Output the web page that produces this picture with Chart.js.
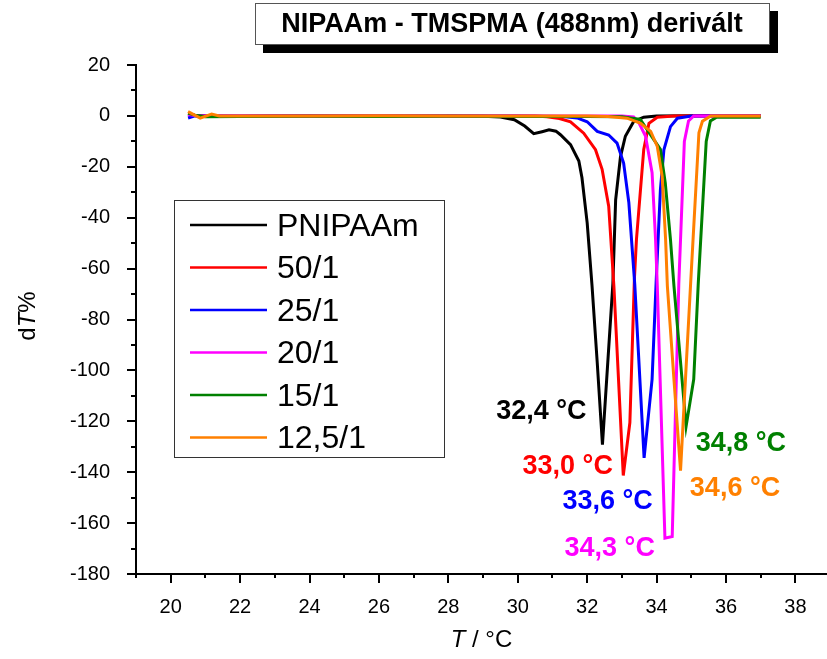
<!DOCTYPE html>
<html>
<head>
<meta charset="utf-8">
<script src="https://cdn.jsdelivr.net/npm/chart.js@4/dist/chart.umd.min.js"></script>
<style>
    body { margin: 0; background: #fff; overflow: hidden; }
    #wrap { width: 827px; height: 659px; }
</style>
</head>
<body>
<div id="wrap"><canvas id="chart" width="827" height="659"></canvas></div>
<script>
    // series: [T (°C), dT%]
    const pnipaam = [
        [20.5, 0.8], [20.7, 0.2], [21, 0], [22, -0.2], [23, 0], [24, 0], [25, 0], [26, 0], [27, 0], [28, 0],
        [29, -0.1], [29.5, -0.4], [29.9, -1.5], [30.2, -4], [30.46, -7], [30.7, -6.2], [30.9, -5.5],
        [31.1, -6], [31.23, -7.4], [31.52, -11.3], [31.76, -17.7], [31.85, -24.3], [32.0, -42],
        [32.14, -66.8], [32.29, -97], [32.44, -129.2], [32.74, -66], [32.82, -33], [32.96, -16],
        [33.1, -8], [33.34, -2.2], [33.63, -0.5], [34, 0], [35, 0.1], [36, 0.1], [37, 0.1]
    ];
    const r50 = [
        [20.5, 0.5], [20.8, 0], [22, 0], [24, 0.1], [26, 0], [28, 0], [30, 0], [30.5, 0], [30.84, -0.3],
        [31.2, -1], [31.52, -2.3], [31.9, -6.8], [32.24, -13.3], [32.43, -21], [32.62, -35.5],
        [32.77, -67], [33.04, -141.3], [33.23, -120.5], [33.36, -64.3], [33.42, -48.5], [33.63, -13.2],
        [33.78, -2.9], [34.02, -0.5], [34.5, 0], [36, 0.1], [37, 0.1]
    ];
    const r25 = [
        [20.5, -0.8], [20.7, 0], [22, 0], [24, 0], [26, 0], [28, 0], [30, 0], [31.3, -0.2], [31.71, -0.8],
        [32.0, -2.3], [32.29, -6.1], [32.62, -7.5], [32.86, -10.7], [33.05, -18.5], [33.2, -34],
        [33.37, -66], [33.64, -134.4], [33.87, -103.5], [33.99, -64.3], [34.11, -29], [34.21, -13.3],
        [34.4, -4.2], [34.6, -0.9], [35, 0], [37, 0]
    ];
    const r20 = [
        [20.5, 0.5], [20.8, 0], [22, 0], [24, 0], [26, 0], [28, 0], [30, 0], [32, 0], [33, 0],
        [33.34, -0.4], [33.49, -2.7], [33.68, -7.9], [33.87, -22.3], [33.97, -48.5], [34.02, -66.8],
        [34.24, -165.9], [34.45, -165.3], [34.64, -66], [34.8, -10], [34.92, -2], [35.07, 0],
        [36, 0], [37, 0]
    ];
    const r15 = [
        [20.5, 1], [20.7, 0.3], [21, -0.3], [22, -0.2], [24, -0.1], [26, -0.2], [28, -0.1], [30, -0.2],
        [32, -0.2], [33, -0.3], [33.53, -1.4], [33.92, -9.3], [34.11, -13.1], [34.25, -26.3],
        [34.4, -48.6], [34.5, -66.8], [34.85, -122], [35.07, -103.5], [35.2, -66], [35.43, -10],
        [35.55, -2], [35.74, -0.4], [36.5, -0.5], [37, -0.5]
    ];
    const r125 = [
        [20.5, 1.7], [20.85, -0.9], [21.18, 0.7], [21.4, 0], [22, 0], [24, 0], [26, 0.1], [28, 0],
        [30, 0], [32, 0], [32.6, -0.2], [33.15, -0.9], [33.54, -2.9], [33.83, -6.1], [34.02, -12],
        [34.16, -23.7], [34.26, -48.6], [34.31, -66.8], [34.5, -103.5], [34.69, -139.4], [34.98, -66],
        [35.22, -6.6], [35.32, -2.1], [35.56, 0], [37, 0]
    ];

    const seriesLabels = ['PNIPAAm', '50/1', '25/1', '20/1', '15/1', '12,5/1'];
    const seriesData = [pnipaam, r50, r25, r20, r15, r125];
    const peakTexts = ['32,4 °C', '33,0 °C', '33,6 °C', '34,3 °C', '34,8 °C', '34,6 °C'];

    const xTicks = [20, 22, 24, 26, 28, 30, 32, 34, 36, 38];
    const yTicks = [-180, -160, -140, -120, -100, -80, -60, -40, -20, 0, 20];

    const COLORS = ['#000000', '#ff0000', '#0000ff', '#ff00ff', '#008000', '#ff8000'];
    const FONT = "'Liberation Sans', Arial, sans-serif";

    // where each peak caption sits, in axis units
    const PEAK_LABEL_AT = [
        [30.68, -116.1], [31.44, -137.8], [32.59, -151.5],
        [32.65, -169.9], [36.43, -128.6], [36.26, -146.3]
    ];

    const decor = {
        id: 'decor',
        afterDraw(chart) {
            const {ctx, chartArea: area, scales: {x, y}} = chart;
            ctx.save();

            // tick marks, major + minor
            ctx.strokeStyle = '#000';
            ctx.lineWidth = 2;
            ctx.beginPath();
            for (let v = 19; v <= 38; v++) {
                const px = Math.round(x.getPixelForValue(v));
                ctx.moveTo(px, area.bottom);
                ctx.lineTo(px, area.bottom + (v % 2 === 0 ? 9 : 4));
            }
            for (let v = -180; v <= 20; v += 10) {
                const py = Math.round(y.getPixelForValue(v));
                ctx.moveTo(area.left, py);
                ctx.lineTo(area.left - (v % 20 === 0 ? 9 : 5), py);
            }
            ctx.stroke();

            // title box with drop shadow
            ctx.fillStyle = '#000';
            ctx.fillRect(263, 11, 515, 42);
            ctx.fillStyle = '#fff';
            ctx.fillRect(255, 3, 514, 41);
            ctx.strokeStyle = '#555';
            ctx.lineWidth = 1;
            ctx.strokeRect(255.5, 3.5, 514, 41);
            ctx.fillStyle = '#000';
            ctx.font = `bold 27px ${FONT}`;
            ctx.textAlign = 'center';
            ctx.textBaseline = 'middle';
            ctx.fillText('NIPAAm - TMSPMA (488nm) derivált', 512, 25, 472);

            // axis titles with italic T
            const mixed = (parts, size) => {
                let w = 0;
                parts.forEach(p => {
                    ctx.font = `${p[1] ? 'italic ' : ''}${size}px ${FONT}`;
                    w += ctx.measureText(p[0]).width;
                });
                let cx = -w / 2;
                ctx.textAlign = 'left';
                parts.forEach(p => {
                    ctx.font = `${p[1] ? 'italic ' : ''}${size}px ${FONT}`;
                    ctx.fillText(p[0], cx, 0);
                    cx += ctx.measureText(p[0]).width;
                });
            };
            ctx.save();
            ctx.translate((area.left + area.right) / 2, 640);
            mixed([['T', true], [' / °C', false]], 24);
            ctx.restore();
            ctx.save();
            ctx.translate(28, 316);
            ctx.rotate(-Math.PI / 2);
            mixed([['d', false], ['T', true], ['%', false]], 24);
            ctx.restore();

            // legend
            ctx.strokeStyle = '#333';
            ctx.lineWidth = 1;
            ctx.fillStyle = '#fff';
            ctx.fillRect(174, 200, 270, 257);
            ctx.strokeRect(174.5, 200.5, 270, 257);
            ctx.font = `32px ${FONT}`;
            ctx.textAlign = 'left';
            ctx.textBaseline = 'middle';
            seriesLabels.forEach((label, i) => {
                const ry = 225 + i * 42.5;
                ctx.strokeStyle = COLORS[i];
                ctx.lineWidth = 2.5;
                ctx.beginPath();
                ctx.moveTo(190, ry);
                ctx.lineTo(267, ry);
                ctx.stroke();
                ctx.fillStyle = '#000';
                ctx.fillText(label, 277, ry + 2);
            });

            // peak captions
            ctx.font = `bold 27px ${FONT}`;
            ctx.textAlign = 'center';
            peakTexts.forEach((t, i) => {
                ctx.fillStyle = COLORS[i];
                ctx.fillText(t, x.getPixelForValue(PEAK_LABEL_AT[i][0]), y.getPixelForValue(PEAK_LABEL_AT[i][1]));
            });

            ctx.restore();
        }
    };

    const datasets = seriesData.map((pts, i) => ({
        label: seriesLabels[i],
        data: pts.map(p => ({x: p[0], y: p[1]})),
        borderColor: COLORS[i],
        backgroundColor: COLORS[i],
        borderWidth: 3,
        pointRadius: 0,
        tension: 0,
        order: seriesData.length - i
    }));

    new Chart(document.getElementById('chart'), {
        type: 'line',
        data: {datasets: datasets},
        plugins: [decor],
        options: {
            responsive: false,
            animation: false,
            layout: {padding: {top: 65, right: 0, left: 0, bottom: 0}},
            plugins: {
                legend: {display: false},
                tooltip: {enabled: false}
            },
            scales: {
                x: {
                    type: 'linear',
                    min: 19,
                    max: 38.91,
                    afterBuildTicks: (scale) => {
                        scale.ticks = xTicks.map(v => ({value: v}));
                    },
                    afterFit: (scale) => { scale.height = 85; },
                    grid: {display: false},
                    border: {display: true, color: '#000', width: 2},
                    ticks: {
                        color: '#000',
                        padding: 13,
                        maxRotation: 0,
                        autoSkip: false,
                        font: {family: FONT, size: 20}
                    }
                },
                y: {
                    min: -180,
                    max: 20,
                    afterBuildTicks: (scale) => {
                        scale.ticks = yTicks.map(v => ({value: v}));
                    },
                    afterFit: (scale) => { scale.width = 136; },
                    grid: {display: false},
                    border: {display: true, color: '#000', width: 2},
                    ticks: {
                        color: '#000',
                        padding: 18,
                        autoSkip: false,
                        font: {family: FONT, size: 20}
                    }
                }
            }
        }
    });
</script>
</body>
</html>
